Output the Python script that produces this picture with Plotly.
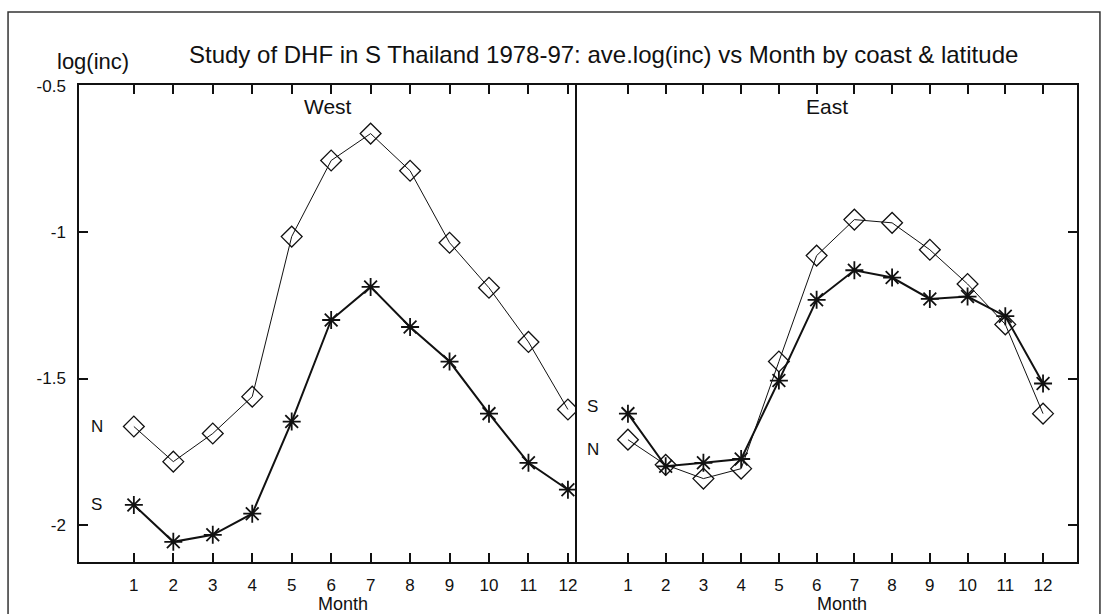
import plotly.graph_objects as go

months = list(range(1, 13))
month_labels = [str(m) for m in months]

west_north = [-1.664, -1.784, -1.688, -1.562, -1.015, -0.755, -0.663, -0.790, -1.036, -1.190, -1.375, -1.606]
west_south = [-1.932, -2.058, -2.034, -1.962, -1.647, -1.300, -1.187, -1.324, -1.442, -1.620, -1.788, -1.880]
east_north = [-1.709, -1.795, -1.842, -1.808, -1.442, -1.080, -0.957, -0.968, -1.060, -1.177, -1.315, -1.620]
east_south = [-1.620, -1.800, -1.788, -1.775, -1.507, -1.231, -1.130, -1.155, -1.228, -1.220, -1.287, -1.517]

y_ticks = [-0.5, -1, -1.5, -2]
y_tick_labels = ["-0.5", "-1", "-1.5", "-2"]

FONT = "Liberation Sans, Arial, sans-serif"
BLACK = "#111111"

fig = go.Figure()

def add_pair(north, south, xa, ya):
    fig.add_trace(go.Scatter(
        x=months, y=north, xaxis=xa, yaxis=ya, mode="lines+markers",
        line=dict(color=BLACK, width=1),
        marker=dict(symbol="diamond-open", size=16, color=BLACK, line=dict(width=1.3, color=BLACK)),
        showlegend=False, hoverinfo="x+y"))
    fig.add_trace(go.Scatter(
        x=months, y=south, xaxis=xa, yaxis=ya, mode="lines+markers",
        line=dict(color=BLACK, width=2),
        marker=dict(symbol="asterisk-open", size=15, color=BLACK, line=dict(width=1.8, color=BLACK)),
        showlegend=False, hoverinfo="x+y"))

add_pair(west_north, west_south, "x", "y")
add_pair(east_north, east_south, "x2", "y2")

xcommon = dict(
    tickmode="array", tickvals=months, ticktext=month_labels,
    ticks="inside", ticklen=9, tickwidth=1.5, tickcolor=BLACK,
    showline=True, linecolor=BLACK, linewidth=2, mirror="ticks",
    showgrid=False, zeroline=False, ticklabelstandoff=7, automargin=False,
    tickfont=dict(family=FONT, size=17, color=BLACK),
)
ycommon = dict(
    range=[-2.127, -0.497], tickmode="array", tickvals=y_ticks, ticktext=y_tick_labels,
    ticks="inside", ticklen=9, tickwidth=1.5, tickcolor=BLACK,
    showline=True, linecolor=BLACK, linewidth=1.5, automargin=False,
    showgrid=False, zeroline=False,
    tickfont=dict(family=FONT, size=17, color=BLACK),
)

fig.update_layout(
    width=1107, height=614,
    margin=dict(l=79, r=30, t=85, b=52, autoexpand=False),
    paper_bgcolor="white", plot_bgcolor="white",
    xaxis=dict(domain=[0, 0.499], range=[-0.39, 12.23], anchor="y", **xcommon),
    xaxis2=dict(domain=[0.499, 1.0], range=[-0.35, 12.9], anchor="y2", **xcommon),
    yaxis=dict(domain=[0, 1], anchor="x", mirror=False, ticklabelstandoff=8, **ycommon),
    yaxis2=dict(domain=[0, 1], anchor="x2", side="right", mirror=True,
                showticklabels=False, **ycommon),
    font=dict(family=FONT, color=BLACK),
)

annotations = [
    dict(text="Study of DHF in S Thailand 1978-97: ave.log(inc) vs Month by coast & latitude",
         xref="paper", yref="paper", x=0.526, y=1.064, xanchor="center", yanchor="middle",
         showarrow=False, font=dict(family=FONT, size=24, color=BLACK)),
    dict(text="log(inc)", xref="paper", yref="paper", x=0.014, y=1.05,
         xanchor="center", yanchor="middle", showarrow=False,
         font=dict(family=FONT, size=22, color=BLACK)),
    dict(text="West", xref="x domain", yref="y domain", x=0.5, y=0.955,
         xanchor="center", yanchor="middle", showarrow=False,
         font=dict(family=FONT, size=21, color=BLACK)),
    dict(text="East", xref="x2 domain", yref="y2 domain", x=0.5, y=0.955,
         xanchor="center", yanchor="middle", showarrow=False,
         font=dict(family=FONT, size=21, color=BLACK)),
    dict(text="Month", xref="x domain", yref="paper", x=0.53, y=-0.063,
         xanchor="center", yanchor="top", showarrow=False,
         font=dict(family=FONT, size=18, color=BLACK)),
    dict(text="Month", xref="x2 domain", yref="paper", x=0.53, y=-0.063,
         xanchor="center", yanchor="top", showarrow=False,
         font=dict(family=FONT, size=18, color=BLACK)),
    dict(text="N", xref="x", yref="y", x=0.06, y=west_north[0], showarrow=False,
         font=dict(family=FONT, size=17, color=BLACK)),
    dict(text="S", xref="x", yref="y", x=0.06, y=west_south[0], showarrow=False,
         font=dict(family=FONT, size=17, color=BLACK)),
    dict(text="S", xref="x2", yref="y2", x=0.07, y=-1.596, showarrow=False,
         font=dict(family=FONT, size=17, color=BLACK)),
    dict(text="N", xref="x2", yref="y2", x=0.07, y=-1.743, showarrow=False,
         font=dict(family=FONT, size=17, color=BLACK)),
]
fig.update_layout(annotations=annotations)

# outer frame of the figure
fig.add_shape(type="rect", xref="paper", yref="paper",
              x0=-0.0711, x1=1.023, y0=-0.2, y1=1.153,
              line=dict(color="#333333", width=1.5), fillcolor="rgba(0,0,0,0)", layer="below")

fig.write_html("out.html")
